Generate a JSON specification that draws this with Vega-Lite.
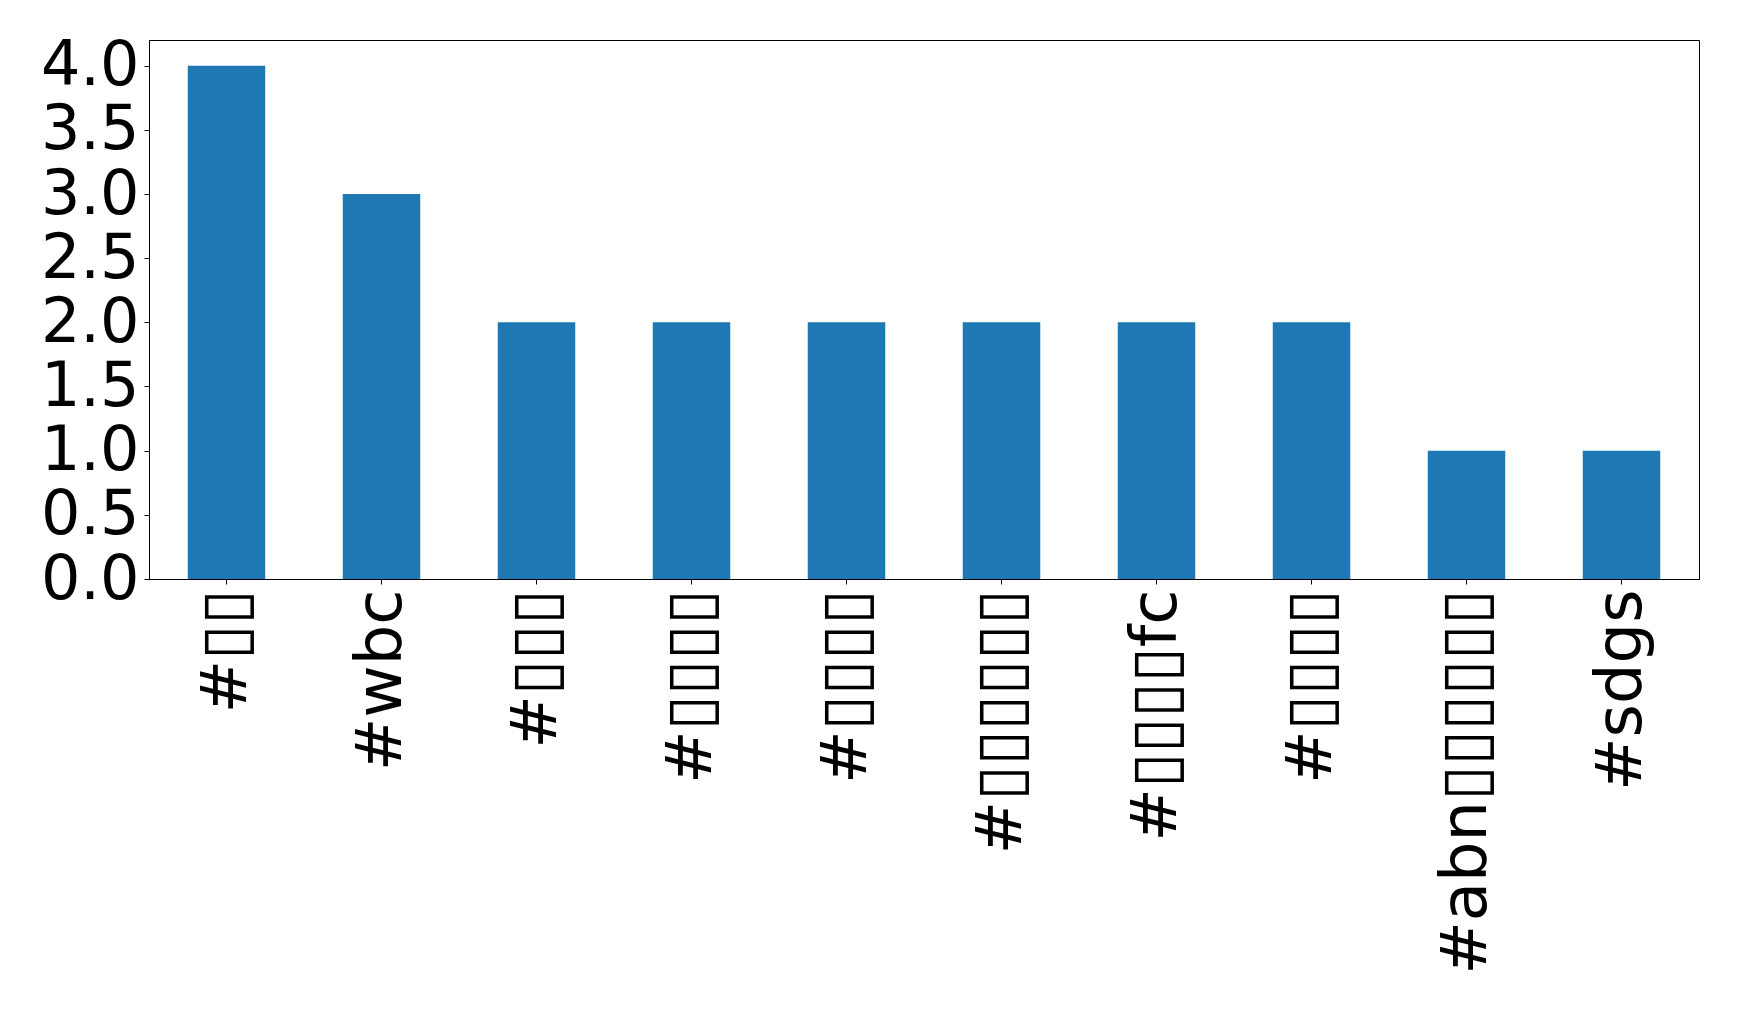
{
  "$schema": "https://vega.github.io/schema/vega-lite/v6.json",
  "width": 1550,
  "height": 539,
  "autosize": {"type": "none"},
  "padding": {"left": 149, "top": 40, "right": 40, "bottom": 444},
  "background": "white",
  "data": {
    "values": [
      {"tag": "#▯▯", "count": 4},
      {"tag": "#wbc", "count": 3},
      {"tag": "#▯▯▯", "count": 2},
      {"tag": "#▯▯▯▯", "count": 2},
      {"tag": "#▯▯▯▯ ", "count": 2},
      {"tag": "#▯▯▯▯▯▯", "count": 2},
      {"tag": "#▯▯▯▯fc", "count": 2},
      {"tag": "#▯▯▯▯  ", "count": 2},
      {"tag": "#abn▯▯▯▯▯▯", "count": 1},
      {"tag": "#sdgs", "count": 1}
    ]
  },
  "mark": {"type": "bar", "color": "#1f77b4"},
  "encoding": {
    "x": {
      "field": "tag",
      "type": "nominal",
      "sort": null,
      "scale": {"paddingInner": 0.5, "paddingOuter": 0.25},
      "axis": {
        "title": null,
        "labelAngle": 270,
        "labelFont": "DejaVu Sans",
        "labelFontSize": 64,
        "labelColor": "black",
        "labelPadding": 5,
        "tickSize": 5,
        "tickColor": "black",
        "domainColor": "black",
        "labelLimit": 0,
        "labelOverlap": false
      }
    },
    "y": {
      "field": "count",
      "type": "quantitative",
      "scale": {"domain": [0, 4.2], "nice": false},
      "axis": {
        "title": null,
        "values": [0, 0.5, 1, 1.5, 2, 2.5, 3, 3.5, 4],
        "format": ".1f",
        "grid": false,
        "labelFont": "DejaVu Sans",
        "labelFontSize": 62,
        "labelColor": "black",
        "labelPadding": 5,
        "tickSize": 5,
        "tickColor": "black",
        "domainColor": "black",
        "labelOverlap": false
      }
    }
  },
  "config": {
    "view": {"stroke": "black", "strokeWidth": 1}
  }
}
